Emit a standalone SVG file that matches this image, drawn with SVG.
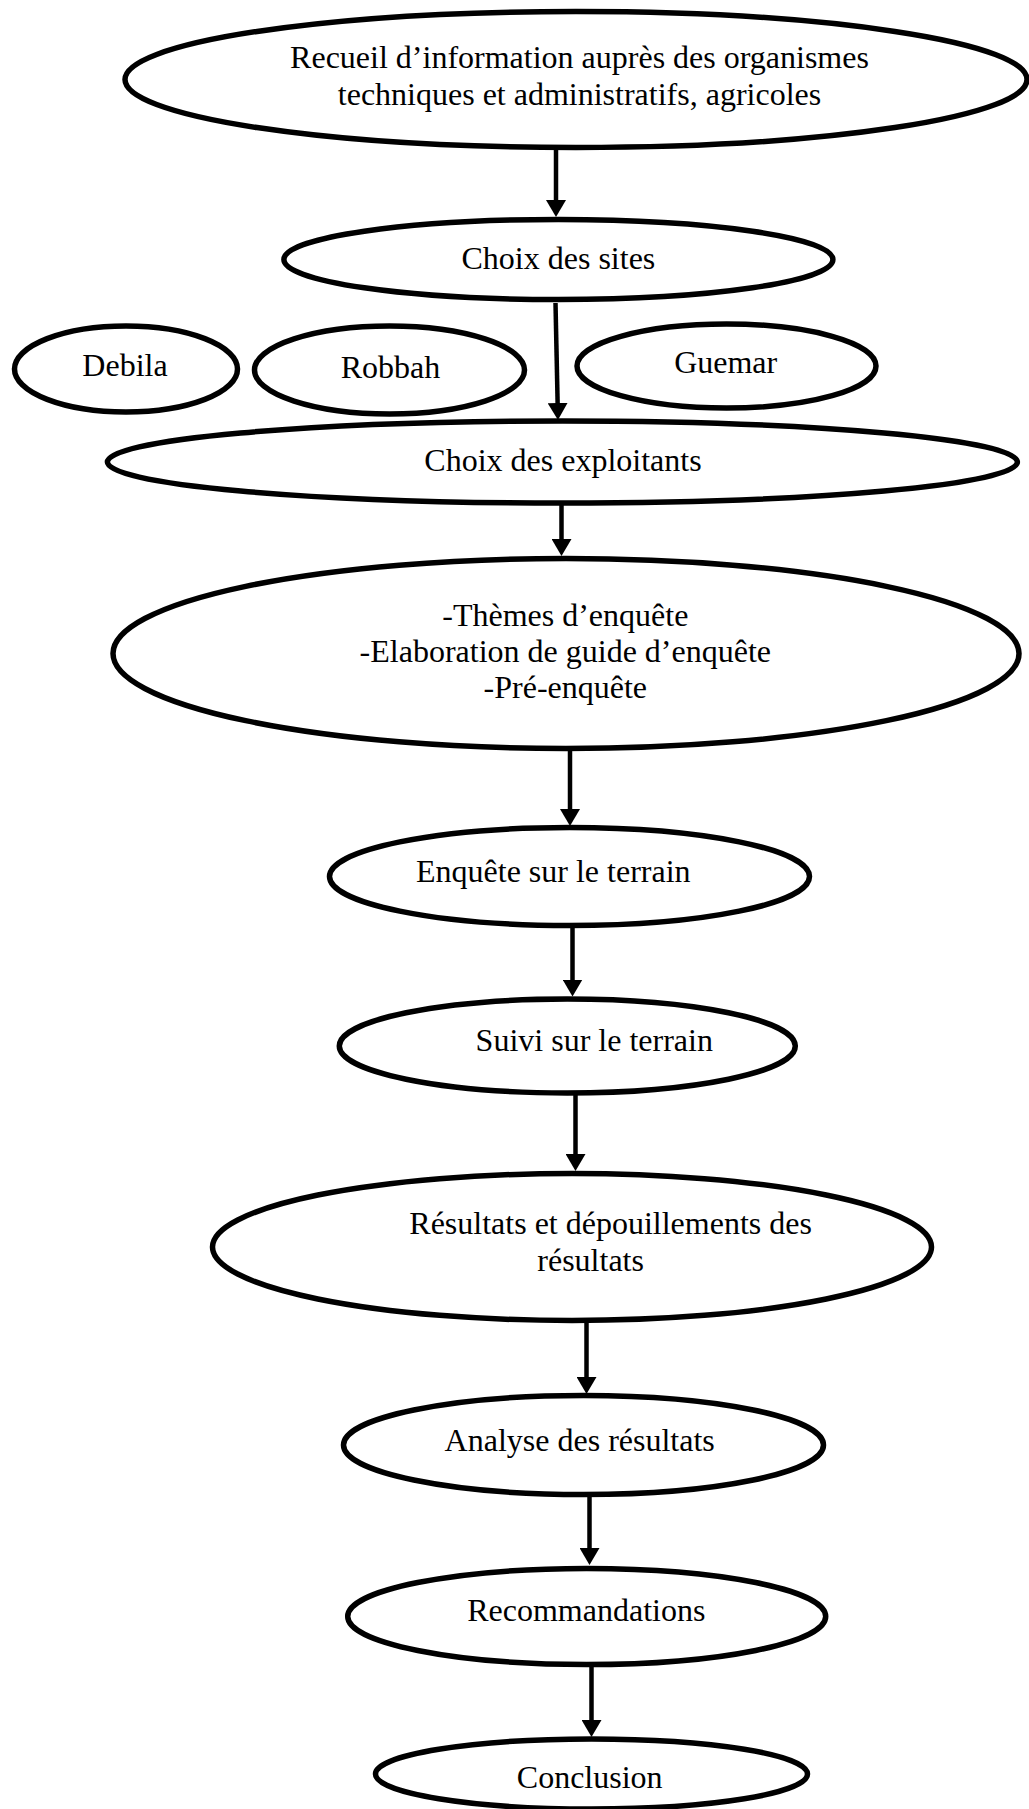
<svg xmlns="http://www.w3.org/2000/svg" width="1029" height="1809" viewBox="0 0 1029 1809">
  <defs>
    <style>
      .node ellipse { fill: #ffffff; stroke: #000000; stroke-width: 5.5; }
      .node text { font-family: "Liberation Serif", "Times New Roman", serif; font-size: 32px; fill: #000000; }
      .mid { text-anchor: middle; }
      .start { text-anchor: start; }
      .conn line { stroke: #000000; stroke-width: 4.5; fill: none; marker-end: url(#arrow); }
    </style>
    <marker id="arrow" viewBox="0 0 17 20" refX="4" refY="10" markerWidth="17" markerHeight="20" markerUnits="userSpaceOnUse" orient="auto">
      <path d="M0,0 L17,10 L0,20 Z" fill="#000000"/>
    </marker>
  </defs>
  <rect x="0" y="0" width="1029" height="1809" fill="#ffffff"/>

  <g id="connectors" class="conn">
    <line x1="556" y1="150" x2="556" y2="204"/>
    <line x1="555.5" y1="303" x2="557.7" y2="407"/>
    <line x1="561.5" y1="505" x2="561.5" y2="543"/>
    <line x1="570" y1="750" x2="570" y2="813"/>
    <line x1="572.5" y1="928" x2="572.5" y2="983.5"/>
    <line x1="575.5" y1="1095" x2="575.5" y2="1158"/>
    <line x1="586.5" y1="1323" x2="586.5" y2="1381"/>
    <line x1="589.5" y1="1497" x2="589.5" y2="1552"/>
    <line x1="591.5" y1="1667" x2="591.5" y2="1724"/>
  </g>

  <g id="n-recueil" class="node">
    <ellipse cx="576" cy="79.5" rx="451" ry="68"/>
    <text class="mid" x="579.5" y="68">Recueil d’information auprès des organismes</text>
    <text class="mid" x="579.5" y="105">techniques et administratifs, agricoles</text>
  </g>
  <g id="n-choix-sites" class="node">
    <ellipse cx="558.4" cy="259.5" rx="274.5" ry="40"/>
    <text class="mid" x="558.4" y="269">Choix des sites</text>
  </g>
  <g id="n-debila" class="node">
    <ellipse cx="126" cy="369" rx="111.5" ry="43"/>
    <text class="mid" x="125" y="376">Debila</text>
  </g>
  <g id="n-robbah" class="node">
    <ellipse cx="389.5" cy="370" rx="135" ry="44"/>
    <text class="mid" x="390.5" y="378">Robbah</text>
  </g>
  <g id="n-guemar" class="node">
    <ellipse cx="726.5" cy="366" rx="149.5" ry="42"/>
    <text class="mid" x="725.7" y="373">Guemar</text>
  </g>
  <g id="n-exploitants" class="node">
    <ellipse cx="562.4" cy="462" rx="455" ry="41"/>
    <text class="mid" x="563" y="471">Choix des exploitants</text>
  </g>
  <g id="n-themes" class="node">
    <ellipse cx="566" cy="653.5" rx="453" ry="95"/>
    <text class="mid" x="565.3" y="626">-Thèmes d’enquête</text>
    <text class="mid" x="565.3" y="662">-Elaboration de guide d’enquête</text>
    <text class="mid" x="565.3" y="698">-Pré-enquête</text>
  </g>
  <g id="n-enquete" class="node">
    <ellipse cx="569.5" cy="876.5" rx="240" ry="49"/>
    <text class="start" x="416" y="882">Enquête sur le terrain</text>
  </g>
  <g id="n-suivi" class="node">
    <ellipse cx="567.3" cy="1046" rx="228" ry="47"/>
    <text class="start" x="475.6" y="1051">Suivi sur le terrain</text>
  </g>
  <g id="n-resultats" class="node">
    <ellipse cx="572" cy="1247" rx="359.5" ry="73.5"/>
    <text class="start" x="409.3" y="1234">Résultats et dépouillements des</text>
    <text class="start" x="537.3" y="1271">résultats</text>
  </g>
  <g id="n-analyse" class="node">
    <ellipse cx="583.5" cy="1445" rx="240" ry="49.5"/>
    <text class="mid" x="579.7" y="1451">Analyse des résultats</text>
  </g>
  <g id="n-recommandations" class="node">
    <ellipse cx="586.7" cy="1616.5" rx="239" ry="48"/>
    <text class="mid" x="586.3" y="1621">Recommandations</text>
  </g>
  <g id="n-conclusion" class="node">
    <ellipse cx="591.5" cy="1774" rx="216" ry="35"/>
    <text class="mid" x="589.7" y="1788">Conclusion</text>
  </g>
</svg>
